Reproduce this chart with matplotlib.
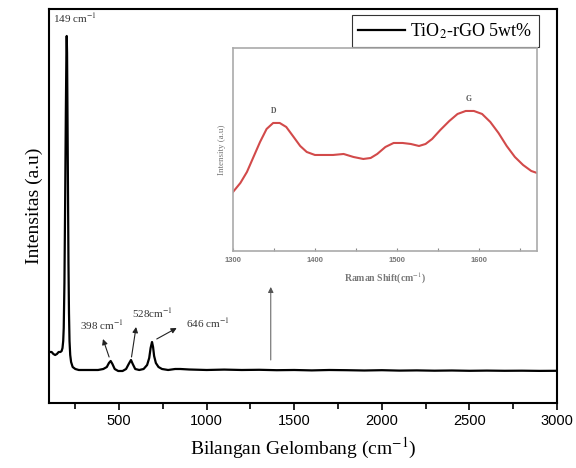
import matplotlib
matplotlib.use('Agg')
import matplotlib.pyplot as plt
import numpy as np

plt.rcParams['mathtext.fontset'] = 'stix'

# main spectrum (wavenumber, intensity a.u.)
wave = [100, 115, 125, 135, 145, 155, 165, 172, 177, 181, 184, 188, 192, 196, 199, 201,
        203, 205, 208, 211, 214, 217, 221, 226, 235, 250, 270, 300, 340, 380, 410, 430,
        442, 452, 462, 475, 495, 520, 540, 555, 568, 578, 592, 615, 640, 660, 672, 680,
        688, 694, 700, 710, 725, 745, 780, 820, 850, 900, 1000, 1100, 1200, 1300, 1400,
        1500, 1600, 1700, 1800, 1900, 2000, 2100, 2200, 2300, 2400, 2500, 2600, 2700,
        2800, 2900, 3000]
inten = [51, 51, 49, 48, 49, 51, 51, 52, 55, 62, 75, 120, 200, 290, 345, 367,
         350, 300, 220, 140, 90, 62, 48, 41, 36, 34, 33, 33, 33, 33, 34, 36,
         40, 42, 39, 34, 32, 32, 34, 39, 43, 39, 34, 33, 34, 38, 45, 55,
         61, 56, 47, 40, 36, 34, 33, 34, 34, 33.5, 33, 33.4, 33, 33.2, 32.8,
         33, 32.6, 33, 32.8, 32.5, 32.8, 32.4, 32.6, 32.3, 32.5, 32.2, 32.4, 32.2,
         32.3, 32.1, 32.2]

# inset: D and G band region
raman = [1300, 1309, 1317, 1325, 1333, 1341, 1349, 1357, 1365, 1374, 1382, 1390, 1400,
         1410, 1422, 1435, 1447, 1459, 1468, 1476, 1486, 1496, 1507, 1517, 1527, 1535,
         1543, 1553, 1564, 1574, 1584, 1594, 1604, 1614, 1624, 1634, 1644, 1654, 1664,
         1671]
raman_int = [59, 68, 79, 94, 109, 122, 128, 128, 124, 114, 105, 99, 96,
             96, 96, 97, 94, 92, 93, 97, 104, 108, 108, 107, 105, 107,
             112, 121, 130, 137, 140, 140, 137, 129, 118, 105, 94, 86, 80,
             78]

serif = 'Liberation Serif'
sans = 'Liberation Sans'

fig = plt.figure(figsize=(5.76, 4.68), dpi=100)
ax = fig.add_axes([0.0851, 0.1389, 0.8819, 0.8419])
ax.plot(wave, inten, color='black', lw=1.6, label='TiO$_2$-rGO 5wt%')
ax.set_xlim(100, 3000)
ax.set_ylim(0, 394)
ax.set_yticks([])
ax.set_xticks([500, 1000, 1500, 2000, 2500, 3000])
ax.set_xticks(np.arange(250, 3000, 500), minor=True)
ax.tick_params(axis='x', which='major', direction='out', length=5, width=1.2,
               labelsize=10.5, pad=3)
ax.tick_params(axis='x', which='minor', direction='out', length=4, width=1.2)
for lab in ax.get_xticklabels():
    lab.set_fontfamily(sans)
for sp in ax.spines.values():
    sp.set_linewidth(1.5)

ax.set_xlabel('Bilangan Gelombang (cm$^{-1}$)', fontsize=14, family=serif, labelpad=6)
ax.set_ylabel('Intensitas (a.u)', fontsize=14, family=serif, labelpad=4)

leg = ax.legend(loc='upper right', bbox_to_anchor=(0.9646, 0.985), borderaxespad=0,
                fancybox=False, edgecolor='#333333', framealpha=1, handlelength=2.6,
                handletextpad=0.3, borderpad=0.35, prop={'family': serif, 'size': 13})
leg.get_frame().set_linewidth(0.8)

tkw = dict(family=serif, fontsize=8, color='#333333')
akw = dict(arrowstyle='-|>', color='#222222', lw=0.8, shrinkA=0, shrinkB=0, mutation_scale=8)
ax.text(123, 385, '149 cm$^{-1}$', ha='left', va='center', **tkw)
ax.text(403, 78, '398 cm$^{-1}$', ha='center', va='center', **tkw)
ax.annotate('', xy=(408, 64), xytext=(443, 46), arrowprops=akw)
ax.text(688, 90, '528cm$^{-1}$', ha='center', va='center', **tkw)
ax.annotate('', xy=(597, 76), xytext=(571, 46), arrowprops=akw)
ax.text(1008, 80, '646 cm$^{-1}$', ha='center', va='center', **tkw)
ax.annotate('', xy=(829, 75), xytext=(715, 64), arrowprops=akw)
ax.annotate('', xy=(1366, 116), xytext=(1366, 43),
            arrowprops=dict(arrowstyle='-|>', color='#555555', lw=0.7, shrinkA=0, shrinkB=0,
                            mutation_scale=8))

# inset
ins = fig.add_axes([0.4045, 0.4637, 0.5278, 0.4338])
ins.plot(raman, raman_int, color='#d24a4a', lw=1.5)
ins.set_xlim(1300, 1671)
ins.set_ylim(0, 203)
ins.set_yticks([])
ins.set_xticks([1300, 1400, 1500, 1600])
ins.set_xticks([1350, 1450, 1550, 1650], minor=True)
ins.tick_params(axis='x', which='both', direction='in', length=2.5, width=0.8,
                color='#888888', labelsize=5.5, labelcolor='#777777', pad=4)
for lab in ins.get_xticklabels():
    lab.set_fontfamily(sans)
    lab.set_fontweight('bold')
for sp in ins.spines.values():
    sp.set_color('#aaaaaa')
    sp.set_linewidth(1.2)
ins.set_xlabel('Raman Shift(cm$^{-1}$)', fontsize=7, family=serif, fontweight='bold',
               color='#777777', labelpad=5)
ins.set_ylabel('Intensity (a.u)', fontsize=6.5, family=serif, color='#777777', labelpad=5)
ins.text(1350, 140, 'D', ha='center', va='center', fontsize=5.5, family=serif,
         fontweight='bold', color='#555555')
ins.text(1587, 152, 'G', ha='center', va='center', fontsize=5.5, family=serif,
         fontweight='bold', color='#555555')

fig.savefig('out.png', dpi=100)
